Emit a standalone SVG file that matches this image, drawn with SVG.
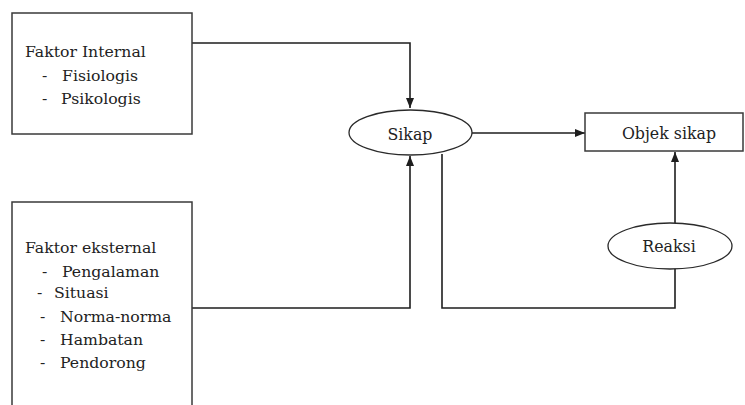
<svg xmlns="http://www.w3.org/2000/svg" width="745" height="405" viewBox="0 0 745 405">
  <style>
    .box { fill: #fff; stroke: #3a3a3a; stroke-width: 1.5; }
    .oval { fill: #fff; stroke: #2a2a2a; stroke-width: 1.3; }
    .lbl { font-family: "DejaVu Serif", "Liberation Serif", serif; font-size: 15.7px; fill: #222; }
    .mid { text-anchor: middle; font-size: 15.8px; }
    .wire { fill: none; stroke: #1e1e1e; stroke-width: 1.6; }
  </style>
  <defs>
    <marker id="arrow" viewBox="0 0 10 8" refX="10" refY="4" markerWidth="10" markerHeight="8" orient="auto" markerUnits="userSpaceOnUse">
      <path d="M0,0 L10,4 L0,8 Z" fill="#1e1e1e"/>
    </marker>
  </defs>

  <rect width="745" height="405" fill="#fff"/>

  <g id="connectors">
    <!-- internal factors down into Sikap -->
    <path class="wire" d="M192,43 H410 V108" marker-end="url(#arrow)"/>
    <!-- external factors up into Sikap -->
    <path class="wire" d="M192,308 H410 V156" marker-end="url(#arrow)"/>
    <!-- Sikap to object -->
    <path class="wire" d="M472,133 H585" marker-end="url(#arrow)"/>
    <!-- Sikap to Reaksi loop -->
    <path class="wire" d="M442,154 V308 H675 V268"/>
    <!-- Reaksi to object -->
    <path class="wire" d="M675,223 V152" marker-end="url(#arrow)"/>
  </g>

  <g id="faktor-internal">
    <rect class="box" x="12" y="13" width="180" height="121"/>
    <text class="lbl" x="25" y="57">Faktor Internal</text>
    <text class="lbl" x="42" y="81">-</text>
    <text class="lbl" x="62" y="81">Fisiologis</text>
    <text class="lbl" x="42" y="104">-</text>
    <text class="lbl" x="61" y="104">Psikologis</text>
  </g>

  <g id="faktor-eksternal">
    <rect class="box" x="12" y="202" width="180" height="210"/>
    <text class="lbl" x="25" y="253">Faktor eksternal</text>
    <text class="lbl" x="42" y="277">-</text>
    <text class="lbl" x="62" y="277">Pengalaman</text>
    <text class="lbl" x="37" y="298">-</text>
    <text class="lbl" x="54" y="298">Situasi</text>
    <text class="lbl" x="40" y="322">-</text>
    <text class="lbl" x="60" y="322">Norma-norma</text>
    <text class="lbl" x="40" y="345">-</text>
    <text class="lbl" x="60" y="345">Hambatan</text>
    <text class="lbl" x="40" y="368">-</text>
    <text class="lbl" x="60" y="368">Pendorong</text>
  </g>

  <g id="sikap">
    <ellipse class="oval" cx="410.5" cy="132.5" rx="61.5" ry="22.5"/>
    <text class="lbl mid" x="410" y="140">Sikap</text>
  </g>

  <g id="objek-sikap">
    <rect class="box" x="585" y="113" width="158" height="38"/>
    <text class="lbl mid" x="669" y="139">Objek sikap</text>
  </g>

  <g id="reaksi">
    <ellipse class="oval" cx="670" cy="246" rx="62" ry="23"/>
    <text class="lbl mid" x="669" y="252">Reaksi</text>
  </g>
</svg>
